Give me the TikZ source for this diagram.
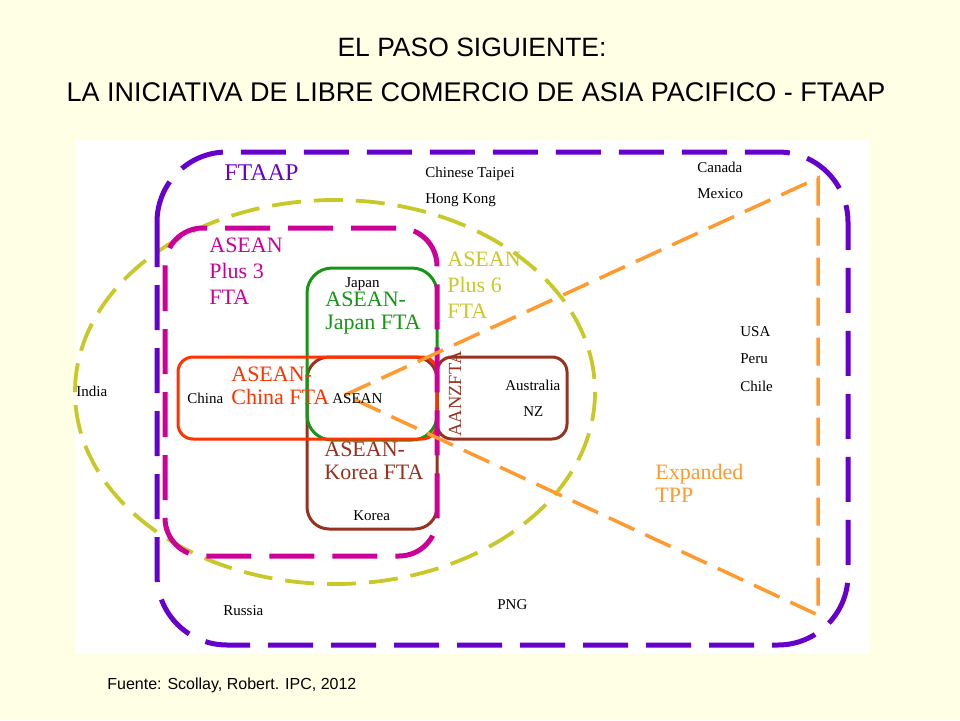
\documentclass[tikz,border=0pt]{standalone}
\usepackage{fontspec}
\setmainfont{Liberation Serif}
\newfontfamily\titlefont{Liberation Sans}
\usepackage{tikz}
\definecolor{slidebg}{HTML}{FFFFE6}
\definecolor{ftaapc}{HTML}{6600CC}
\definecolor{plusthree}{HTML}{CC0099}
\definecolor{plussix}{HTML}{C8C828}
\definecolor{japanc}{HTML}{169616}
\definecolor{chinac}{HTML}{FF3300}
\definecolor{koreac}{HTML}{96321E}
\definecolor{tppc}{HTML}{FF9A2E}
\tikzset{every picture/.style={line width=0.75pt}}
\tikzset{
  bigdash/.style={line width=5pt, dash pattern=on 45pt off 18pt},
  smalldash/.style={line width=3.8pt, dash pattern=on 29pt off 13pt},
  ftabox/.style={line width=3pt},
  country/.style={anchor=base west, inner sep=0pt, text=black, font=\fontsize{15}{18}\selectfont},
  ftalabel/.style={anchor=north west, inner sep=0pt, align=left, font=\fontsize{22}{23}\selectfont},
  titleline/.style={inner sep=0pt, font=\titlefont\fontsize{26.5}{30}\selectfont}
}

\begin{document}
\begin{tikzpicture}[x=1pt,y=1pt,yscale=-1,xscale=1]
\fill[slidebg] (0,0) rectangle (960,720);
\useasboundingbox (0,0) rectangle (960,720);
\fill[white] (75,140) rectangle (870,654);
% titles
\draw (472,47) node [titleline] (title1) {EL PASO SIGUIENTE:};
\draw (476,92) node [titleline, font=\titlefont\fontsize{27}{30}\selectfont] (title2) {LA INICIATIVA DE LIBRE COMERCIO DE ASIA PACIFICO - FTAAP};
% groupings
\draw [plussix, smalldash] (335,392) ellipse [x radius=260, y radius=192];
\draw [ftaapc, bigdash, rounded corners=70] (157,152) rectangle (848,645);
\draw [koreac, ftabox, rounded corners=22] (307,357) rectangle (437,529);
\draw [japanc, ftabox, rounded corners=25] (307,268) rectangle (437,440);
\draw [koreac, ftabox, rounded corners=15] (437,357) rectangle (567,439);
\draw [chinac, ftabox, rounded corners=15] (178,357) rectangle (437,439);
\draw [plusthree, bigdash, rounded corners=38] (165,228) rectangle (437,556);
\draw [tppc, line width=3.5pt, dash pattern=on 28pt off 12pt] (345,395) -- (818,178) -- (818,615) -- cycle;
% fta labels
\draw (224,164) node [ftalabel, text=ftaapc, font=\fontsize{24}{26}\selectfont] (ftaap) {FTAAP};
\draw (209,237.5) node [ftalabel, text=plusthree, font=\fontsize{22}{26}\selectfont] (aplus3) {ASEAN\\Plus 3\\FTA};
\draw (447,252) node [ftalabel, text=plussix, font=\fontsize{22}{26}\selectfont] (aplus6) {ASEAN\\Plus 6\\FTA};
\draw (325,292) node [ftalabel, text=japanc] (ajfta) {ASEAN-\\Japan FTA};
\draw (231,367) node [ftalabel, text=chinac] (acfta) {ASEAN-\\China FTA};
\draw (324,442) node [ftalabel, text=koreac] (akfta) {ASEAN-\\Korea FTA};
\draw (655,464) node [ftalabel, text=tppc] (tpp) {Expanded\\TPP};
\draw (455,394) node [inner sep=0pt, rotate=90, text=koreac, font=\fontsize{18.5}{20}\selectfont] (aanzfta) {AANZFTA};
% economies
\draw (425,177) node [country] (taipei) {Chinese Taipei};
\draw (425,203) node [country] (hongkong) {Hong Kong};
\draw (697,172) node [country] (canada) {Canada};
\draw (697,198) node [country] (mexico) {Mexico};
\draw (345,287) node [country] (japan) {Japan};
\draw (187,403) node [country] (china) {China};
\draw (332,403) node [country] (asean) {ASEAN};
\draw (505,390) node [country] (australia) {Australia};
\draw (523,416) node [country] (nz) {NZ};
\draw (353,520) node [country] (korea) {Korea};
\draw (76,396) node [country] (india) {India};
\draw (740,336) node [country] (usa) {USA};
\draw (740,363) node [country] (peru) {Peru};
\draw (740,391) node [country] (chile) {Chile};
\draw (223,615) node [country] (russia) {Russia};
\draw (497,609) node [country] (png) {PNG};
% source
\draw (107,689) node [anchor=base west, inner sep=0pt, font=\titlefont\fontsize{16}{18}\selectfont] (fuente) {Fuente: Scollay, Robert. IPC, 2012};
\end{tikzpicture}
\end{document}
